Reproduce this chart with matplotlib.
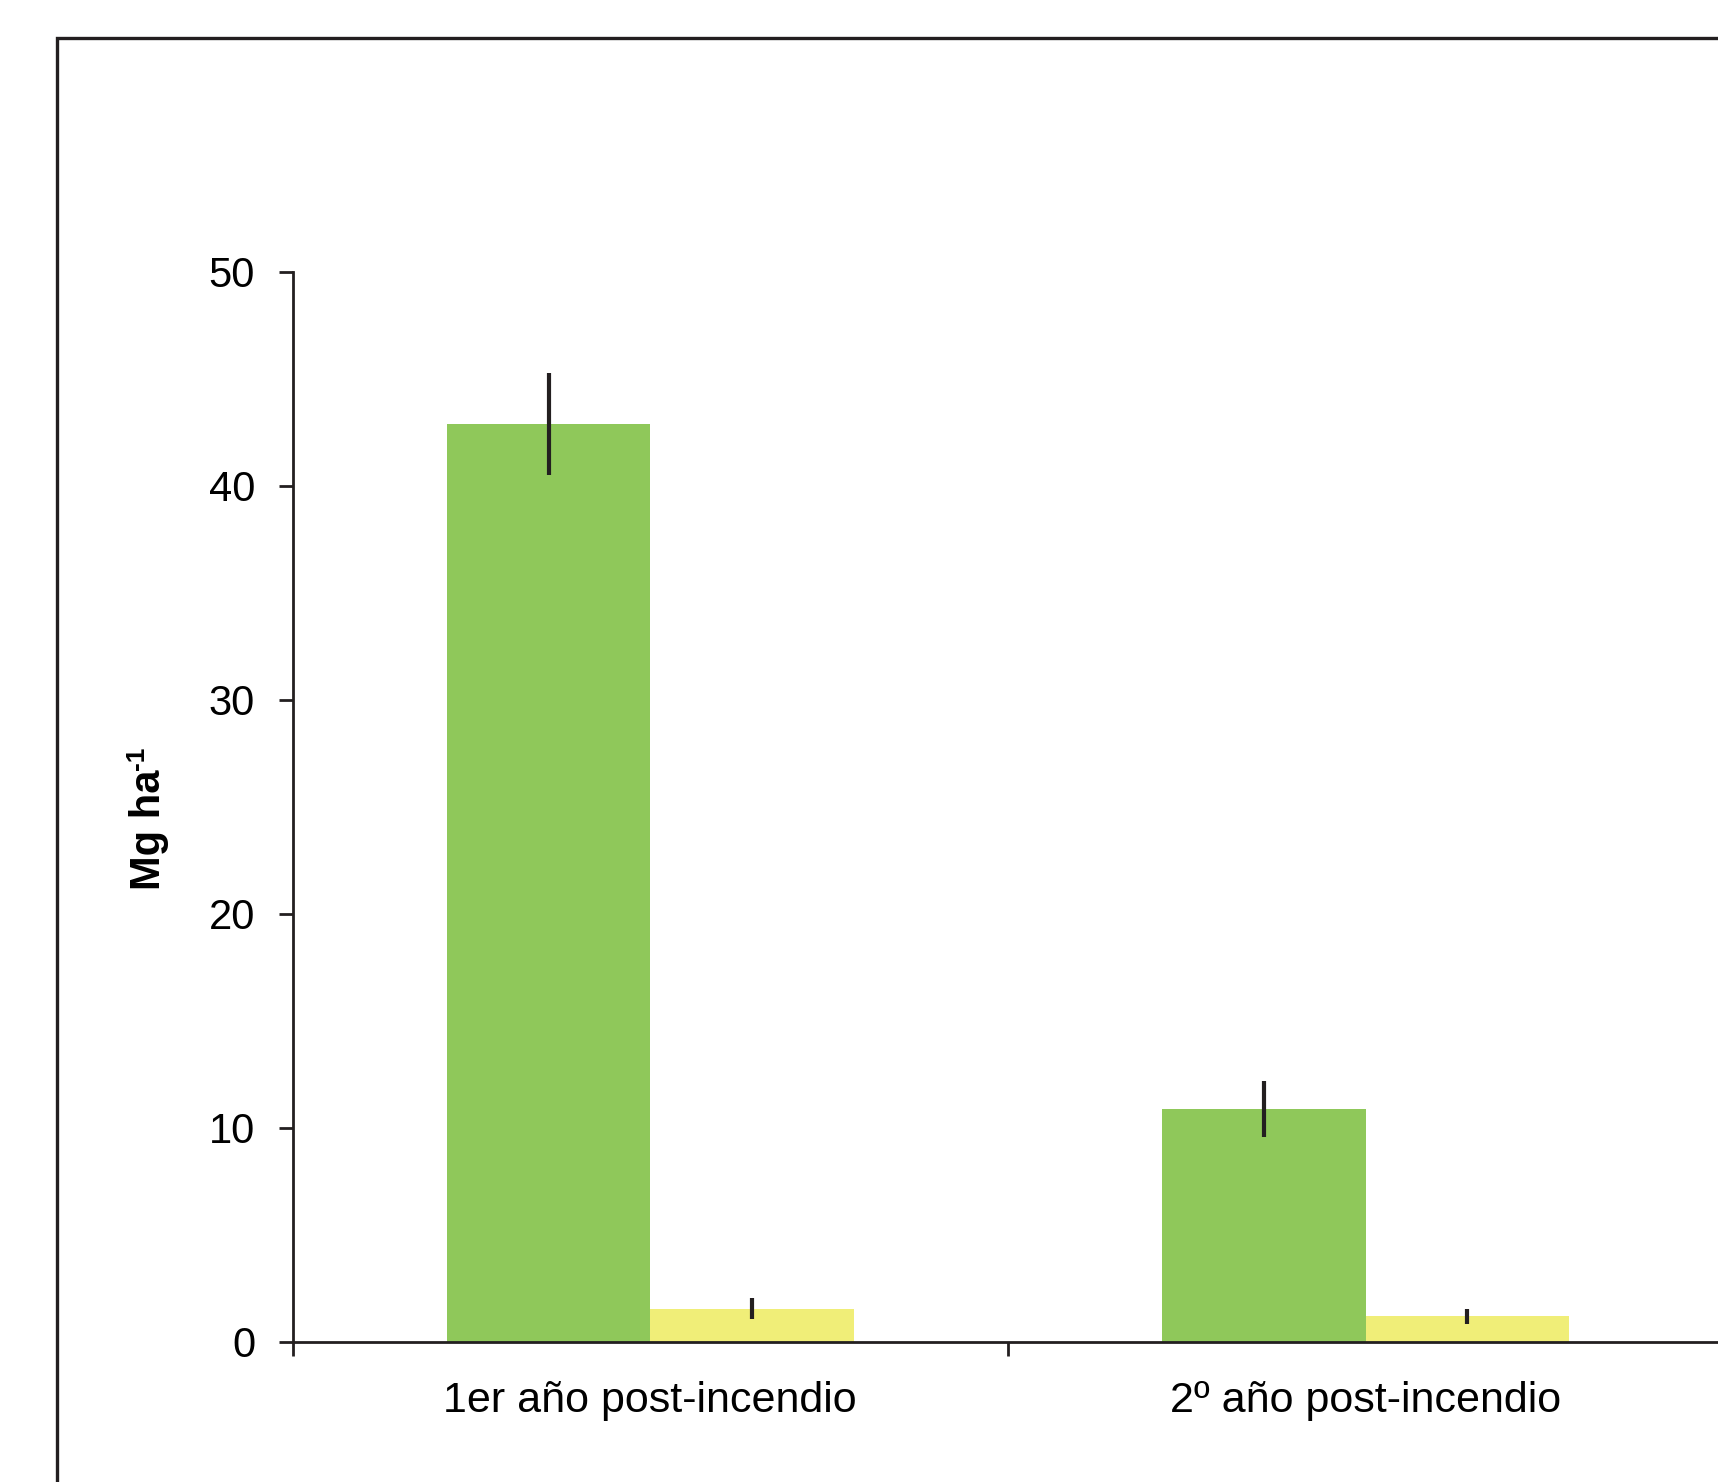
import matplotlib.pyplot as plt
from matplotlib.patches import Rectangle
import numpy as np

plt.rcParams['font.family'] = ['Liberation Sans', 'DejaVu Sans']

# Data
categories = ['1er año post-incendio', '2º año post-incendio']
green_vals = [42.9, 10.9]
green_err = [2.4, 1.3]
yellow_vals = [1.55, 1.2]
yellow_err = [0.5, 0.35]
yticks = [0, 10, 20, 30, 40, 50]

ink = '#231f20'
green = '#8fc85a'
yellow = '#f0ee78'

fig = plt.figure(figsize=(17.18, 14.82), dpi=100)
ax = fig.add_axes([0.1703, 0.0945, 0.8327, 0.722])

centers = np.arange(len(categories)) + 0.5
w = 0.2844
ax.bar(centers - w / 2, green_vals, width=w, color=green, zorder=2)
ax.bar(centers + w / 2, yellow_vals, width=w, color=yellow, zorder=2)
ax.errorbar(centers - w / 2, green_vals, yerr=green_err, fmt='none',
            ecolor=ink, elinewidth=3, capsize=0, zorder=3)
ax.errorbar(centers + w / 2, yellow_vals, yerr=yellow_err, fmt='none',
            ecolor=ink, elinewidth=3, capsize=0, zorder=3)

ax.set_xlim(0, 2)
ax.set_ylim(0, 50)
ax.set_yticks(yticks)
ax.set_yticklabels([str(v) for v in yticks])
ax.set_xticks([0, 1, 2])
ax.set_xticklabels([])
ax.set_xticks(centers, minor=True)
ax.set_xticklabels(categories, minor=True)

for s in ['top', 'right']:
    ax.spines[s].set_visible(False)
for s in ['left', 'bottom']:
    ax.spines[s].set_linewidth(2)
    ax.spines[s].set_color(ink)
    ax.spines[s].set_zorder(4)

ax.tick_params(axis='y', direction='out', length=10, width=2, color=ink,
               labelsize=30, pad=17, labelcolor='black')
ax.tick_params(axis='x', which='major', direction='out', length=10, width=2,
               color=ink)
ax.tick_params(axis='x', which='minor', length=0, labelsize=31, pad=28,
               labelcolor='black')

# y label with a small "-1" superscript
ylab = fig.text(0.087, 0.44, 'Mg ha', rotation=90, fontsize=30,
                fontweight='bold', ha='center', va='center')
ax.annotate('-1', xy=(0, 1), xycoords=ylab, xytext=(-3, 0),
            textcoords='offset points', rotation=90, fontsize=19,
            fontweight='bold', ha='left', va='bottom')

# outer frame (cropped at right and bottom)
frame = Rectangle((0.0332, -0.1), 1.2, 0.1 + 0.9744, transform=fig.transFigure,
                  fill=False, edgecolor=ink, linewidth=2.4, clip_on=False)
fig.patches.append(frame)

fig.savefig('out.png', dpi=100)
